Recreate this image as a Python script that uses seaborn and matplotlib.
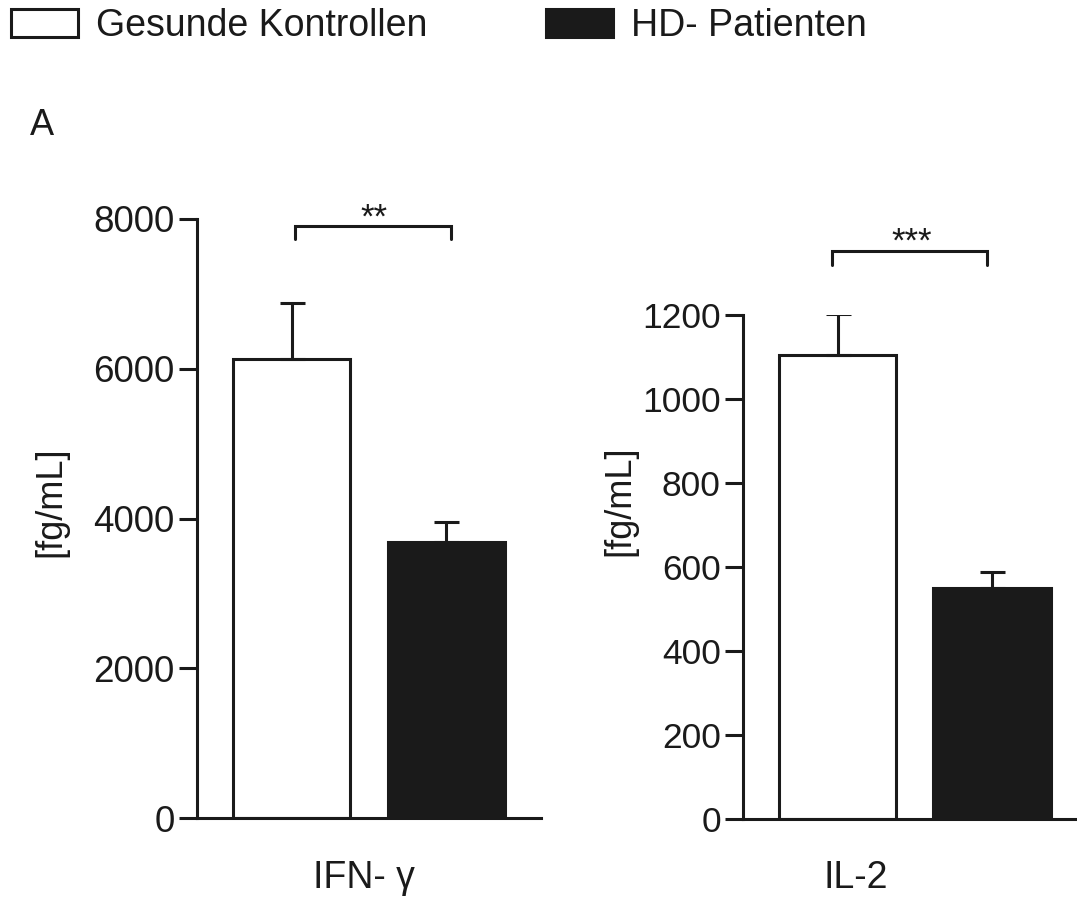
import numpy as np
import pandas as pd
import matplotlib
matplotlib.use("Agg")
import matplotlib.pyplot as plt
from matplotlib.patches import Patch
import seaborn as sns

# Groups and cytokine levels (mean and SEM, fg/mL)
groups = ["Gesunde Kontrollen", "HD- Patienten"]
ifn_mean = [6130, 3680]
ifn_sem = [750, 275]
il2_mean = [1105, 550]
il2_sem = [97, 37]
ifn_ticks = [0, 2000, 4000, 6000, 8000]
il2_ticks = [0, 200, 400, 600, 800, 1000, 1200]
panel_labels = ["IFN- γ", "IL-2"]
ifn_stars = "**"
il2_stars = "***"

INK = "#1a1a1a"
LW = 2.2
colors = {groups[0]: "white", groups[1]: INK}

sns.set_style("ticks")
plt.rcParams["font.family"] = ["Liberation Sans", "DejaVu Sans"]
plt.rcParams["text.color"] = INK
plt.rcParams["axes.edgecolor"] = INK
plt.rcParams["xtick.color"] = INK
plt.rcParams["ytick.color"] = INK

W, H = 1077, 902
fig = plt.figure(figsize=(W / 100, H / 100), dpi=100)


def px_axes(x0, y_top, x1, y_bottom):
    return fig.add_axes([x0 / W, 1 - y_bottom / H, (x1 - x0) / W, (y_bottom - y_top) / H])


def draw_panel(ax, means, sems, ticks, xlim, fs):
    df = pd.DataFrame({"Gruppe": groups, "Wert": means})
    sns.barplot(data=df, x="Gruppe", y="Wert", hue="Gruppe", palette=colors,
                order=groups, hue_order=groups, width=0.76, edgecolor=INK,
                linewidth=LW, errorbar=None, legend=False, ax=ax)
    ax.errorbar([0, 1], means, yerr=[[0, 0], sems], fmt="none", ecolor=INK,
                elinewidth=LW, capsize=9, capthick=LW, zorder=1)
    ax.set_ylim(0, ticks[-1])
    ax.set_xlim(*xlim)
    ax.set_yticks(ticks)
    ax.set_xticks([])
    ax.set_xlabel("")
    ax.set_ylabel("")
    ax.tick_params(axis="y", length=13, width=LW, pad=3, labelsize=fs)
    for s in ("top", "right"):
        ax.spines[s].set_visible(False)
    for s in ("left", "bottom"):
        ax.spines[s].set_linewidth(LW)
    ax.set_facecolor("none")


def bracket(ax, x0, x1, y, drop, stars, ystar, xstar):
    ax.plot([x0, x0, x1, x1], [y - drop, y, y, y - drop], color=INK, lw=LW,
            clip_on=False, solid_joinstyle="miter")
    ax.text(xstar, ystar, stars, ha="center", va="baseline", fontsize=25,
            clip_on=False)


# Left panel: IFN-gamma
ax1 = px_axes(197, 219, 541, 818)
draw_panel(ax1, ifn_mean, ifn_sem, ifn_ticks, (-0.61, 1.61), 26.5)
bracket(ax1, 0.02, 1.03, 7910, 180, ifn_stars, 7885, 0.53)

# Right panel: IL-2
ax2 = px_axes(743, 315, 1077, 819)
draw_panel(ax2, il2_mean, il2_sem, il2_ticks, (-0.614, 1.55), 25.5)
bracket(ax2, -0.04, 0.97, 1352, 33, il2_stars, 1350, 0.48)

# Axis titles
fig.text(51 / W, 1 - 502 / H, "[fg/mL]", rotation=90, ha="center", va="center", fontsize=26)
fig.text(620 / W, 1 - 501 / H, "[fg/mL]", rotation=90, ha="center", va="center", fontsize=26)
fig.text(364 / W, 1 - 878 / H, panel_labels[0], ha="center", va="center", fontsize=27)
fig.text(856 / W, 1 - 878 / H, panel_labels[1], ha="center", va="center", fontsize=27)
fig.text(30 / W, 1 - 135 / H, "A", ha="left", va="baseline", fontsize=26)

# Legend
handles = [Patch(facecolor=colors[g], edgecolor=INK, linewidth=LW, label=g) for g in groups]
fig.legend(handles=handles, loc="upper left", bbox_to_anchor=(11 / W, 1 - 8 / H),
           ncol=2, frameon=False, fontsize=27, handlelength=1.79, handleheight=0.75,
           handletextpad=0.48, columnspacing=3.15, borderpad=0, borderaxespad=0)

fig.savefig("out.png", dpi=100, facecolor="white")
